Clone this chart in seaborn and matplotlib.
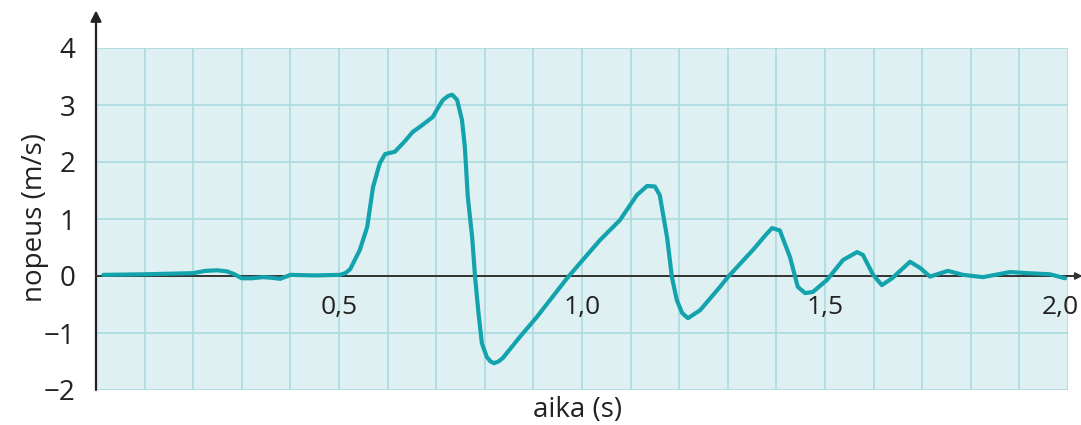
import matplotlib
matplotlib.use("Agg")
import matplotlib.pyplot as plt
from matplotlib.ticker import MultipleLocator, FixedLocator
from matplotlib.transforms import ScaledTranslation
import pandas as pd
import seaborn as sns

# velocity curve
aika = [0.015, 0.10, 0.20, 0.225, 0.25, 0.27, 0.285, 0.30, 0.32, 0.344, 0.36, 0.379, 0.40,
        0.45, 0.502, 0.513, 0.523, 0.543, 0.558, 0.570, 0.584, 0.595, 0.605, 0.615, 0.635,
        0.652, 0.667, 0.693, 0.705, 0.714, 0.725, 0.733, 0.743, 0.753, 0.759, 0.765,
        0.774, 0.780, 0.787, 0.794, 0.804, 0.812, 0.819, 0.828, 0.837, 0.872, 0.907,
        0.971, 1.037, 1.078, 1.113, 1.134, 1.150, 1.160, 1.175, 1.185, 1.195, 1.206,
        1.218, 1.243, 1.284, 1.300, 1.352, 1.380, 1.391, 1.407, 1.428, 1.444, 1.459,
        1.475, 1.504, 1.537, 1.566, 1.578, 1.599, 1.617, 1.638, 1.675, 1.696, 1.716,
        1.753, 1.784, 1.825, 1.881, 1.916, 1.963, 1.994]
nopeus = [0.02, 0.03, 0.05, 0.09, 0.10, 0.08, 0.03, -0.04, -0.04, -0.02, -0.03, -0.05, 0.02,
          0.01, 0.02, 0.05, 0.12, 0.46, 0.86, 1.56, 1.98, 2.14, 2.16, 2.18, 2.36,
          2.53, 2.62, 2.79, 2.97, 3.09, 3.16, 3.18, 3.09, 2.74, 2.26, 1.39,
          0.68, -0.02, -0.65, -1.18, -1.42, -1.50, -1.53, -1.50, -1.44, -1.07, -0.72,
          -0.02, 0.63, 0.98, 1.42, 1.58, 1.57, 1.42, 0.68, -0.02, -0.42, -0.65,
          -0.74, -0.60, -0.19, -0.02, 0.46, 0.74, 0.84, 0.80, 0.33, -0.19, -0.30,
          -0.28, -0.07, 0.28, 0.42, 0.37, 0.02, -0.16, -0.04, 0.25, 0.14, -0.01,
          0.09, 0.02, -0.02, 0.07, 0.05, 0.03, -0.04]

x_labels = ["0,5", "1,0", "1,5", "2,0"]
x_label_pos = [0.5, 1.0, 1.5, 2.0]
y_ticks = [-2, -1, 0, 1, 2, 3, 4]

df = pd.DataFrame({"aika": aika, "nopeus": nopeus})

sns.set_style("white")
plt.rcParams["font.family"] = ["Open Sans", "DejaVu Sans"]

fig = plt.figure(figsize=(10.81, 4.25), dpi=100)
ax = fig.add_axes([96 / 1081, 1 - 390 / 425, 972 / 1081, 342 / 425])
ax.set_facecolor("#dff0f3")

sns.lineplot(data=df, x="aika", y="nopeus", ax=ax, color="#13a3ad", linewidth=3.0,
             sort=False, zorder=5)
ax.lines[0].set_solid_joinstyle("round")
ax.lines[0].set_solid_capstyle("round")

ax.set_xlim(0, 2.0)
ax.set_ylim(-2, 4)

ax.xaxis.set_major_locator(FixedLocator(x_label_pos))
ax.xaxis.set_minor_locator(MultipleLocator(0.1))
ax.set_xticklabels(x_labels)
ax.set_yticks(y_ticks)
ax.set_yticklabels([str(v).replace("-", "\u2212") for v in y_ticks])

ax.grid(True, which="both", axis="x", color="#a9dbe0", linewidth=1.2)
ax.grid(True, which="major", axis="y", color="#a9dbe0", linewidth=1.2)
ax.set_axisbelow(True)

for s in ["top", "right", "left"]:
    ax.spines[s].set_visible(False)
ax.spines["bottom"].set_position(("data", 0))
ax.spines["bottom"].set_color("#333333")
ax.spines["bottom"].set_linewidth(1.4)
ax.spines["bottom"].set_zorder(3)

ax.tick_params(axis="x", which="both", direction="out", length=8, width=1.2,
               color="#555555", labelsize=19, pad=6, labelcolor="#222222")
ax.tick_params(axis="y", direction="out", length=11, width=1.4, color="#222222",
               labelsize=20, pad=4, labelcolor="#222222")

# keep the last x label inside the figure
last = ax.get_xticklabels()[-1]
last.set_transform(last.get_transform() + ScaledTranslation(-8 / 100, 0, fig.dpi_scale_trans))

# axis arrows
ax.annotate("", xy=(0, 1.11), xytext=(0, 0), xycoords="axes fraction",
            arrowprops=dict(arrowstyle="-|>", color="#222222", lw=1.6,
                            mutation_scale=16, shrinkA=0, shrinkB=0))
ax.annotate("", xy=(2.03, 0), xytext=(1.99, 0), xycoords="data",
            arrowprops=dict(arrowstyle="-|>", color="#333333", lw=1.4,
                            mutation_scale=10, shrinkA=0, shrinkB=0),
            annotation_clip=False)

ax.set_xlabel("")
ax.set_ylabel("")
fig.text(578 / 1081, 1 - 410 / 425, "aika (s)", ha="center", va="center",
         fontsize=20, color="#222222")
fig.text(35 / 1081, 1 - 218 / 425, "nopeus (m/s)", ha="center", va="center",
         rotation=90, fontsize=20, color="#222222")

fig.savefig("out.png", dpi=100)
